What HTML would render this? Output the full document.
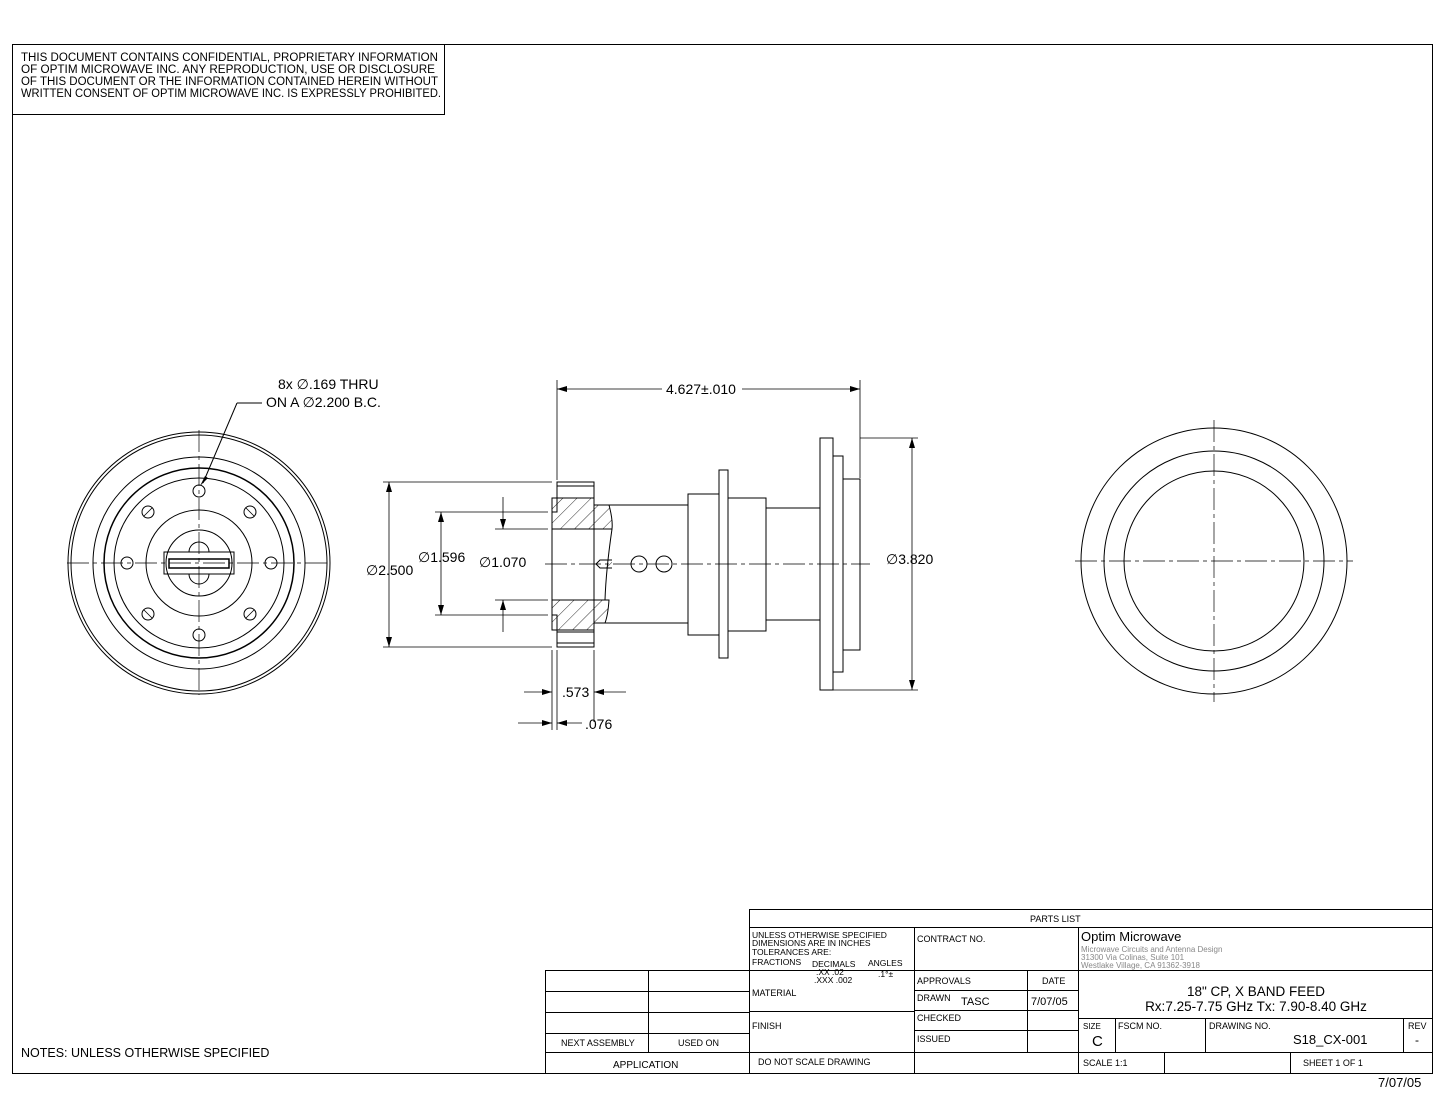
<!DOCTYPE html>
<html><head><meta charset="utf-8"><style>
html,body{margin:0;padding:0;background:#fff;}
svg{display:block;}
text{font-family:"Liberation Sans",sans-serif;fill:#000;}
</style></head><body>
<svg width="1445" height="1117" viewBox="0 0 1445 1117" xmlns="http://www.w3.org/2000/svg">
<defs>
<pattern id="h" width="10" height="10" patternUnits="userSpaceOnUse" patternTransform="rotate(45)">
<line x1="0" y1="0" x2="0" y2="10" stroke="#000" stroke-width="0.8"/></pattern>
<marker id="a" viewBox="0 0 10 6" refX="10" refY="3" markerWidth="10" markerHeight="6" orient="auto-start-reverse" markerUnits="userSpaceOnUse"><path d="M0,0L10,3L0,6z" fill="#000"/></marker>
</defs>
<g fill="none" stroke="#000" stroke-width="1">
<rect x="12.5" y="44.5" width="1420" height="1029"/>
<rect x="12.5" y="44.5" width="432" height="70"/>
</g>
<g font-size="11.5">
<text x="21" y="61" textLength="417" lengthAdjust="spacingAndGlyphs">THIS DOCUMENT CONTAINS CONFIDENTIAL, PROPRIETARY INFORMATION</text>
<text x="21" y="73" textLength="414" lengthAdjust="spacingAndGlyphs">OF OPTIM MICROWAVE INC. ANY REPRODUCTION, USE OR DISCLOSURE</text>
<text x="21" y="85" textLength="417" lengthAdjust="spacingAndGlyphs">OF THIS DOCUMENT OR THE INFORMATION CONTAINED HEREIN WITHOUT</text>
<text x="21" y="97" textLength="420" lengthAdjust="spacingAndGlyphs">WRITTEN CONSENT OF OPTIM MICROWAVE INC. IS EXPRESSLY PROHIBITED.</text>
</g>

<!-- Left view -->
<g fill="none" stroke="#000" stroke-width="1">
<circle cx="199" cy="563" r="131"/><circle cx="199" cy="563" r="128"/>
<circle cx="199" cy="563" r="106"/><circle cx="199" cy="563" r="95" stroke-width="1.5"/>
<circle cx="199" cy="563" r="85"/><circle cx="199" cy="563" r="53"/>
<circle cx="199" cy="563" r="33"/>
<g>
<circle cx="199" cy="491" r="6"/><circle cx="199" cy="635" r="6"/>
<circle cx="127" cy="563" r="6"/><circle cx="271" cy="563" r="6"/>
<circle cx="148" cy="512" r="6"/><circle cx="250" cy="512" r="6"/>
<circle cx="148" cy="614" r="6"/><circle cx="250" cy="614" r="6"/>
</g>
<path d="M144 516 L152 508 M246 508 L254 516 M144 610 L152 618 M246 618 L254 610" stroke-width="0.8"/>
<rect x="164" y="552" width="70" height="22"/>
<rect x="169" y="559" width="60" height="9" stroke-width="1.5"/>
<path d="M189 552 A10 10 0 0 1 209 552 M189 574 A10 10 0 0 0 209 574"/>
<line x1="67" y1="563" x2="331" y2="563" stroke-dasharray="22,4,4,4" stroke-width="0.7"/>
<line x1="199" y1="430" x2="199" y2="695" stroke-dasharray="22,4,4,4" stroke-width="0.7"/>
<path d="M237 403 L203 483"/><path d="M237 403 L262 403"/>
</g>
<path d="M200 486 L205 476 L208 478 z" fill="#000"/>
<g font-size="14">
<text x="278" y="389">8x ∅.169 THRU</text>
<text x="266" y="407">ON A ∅2.200 B.C.</text>
</g>

<!-- Middle view -->
<g fill="none" stroke="#000" stroke-width="1">
<path d="M557 482 H594 V647 H557 V615 H552 V512 H557 Z"/>
<rect x="557" y="482" width="37" height="16" fill="#fff"/>
<rect x="557" y="632" width="37" height="15" fill="#fff"/>
<path d="M557 486 H594 M557 643 H594"/>
<path d="M552 498 H594 V505 H609 Q613 520 612 529 H552 Z" fill="url(#h)"/>
<path d="M552 600 H609 Q608 615 605 623 H594 V630 H552 Z" fill="url(#h)"/>
<path d="M612 529 Q606 570 605 600"/>
<path d="M594 505 H688 M594 623 H688"/>
<path d="M612 560 H600 L596 564 L600 568 H612" fill="url(#h)"/>
<circle cx="639" cy="564" r="8"/><circle cx="664" cy="564" r="8"/>
<rect x="688" y="494" width="31" height="141"/>
<rect x="719" y="470" width="9" height="188"/>
<rect x="728" y="498" width="38" height="133"/>
<path d="M766 508 H820 M766 620 H820"/>
<rect x="820" y="438" width="13" height="252"/>
<rect x="833" y="456" width="10" height="216"/>
<rect x="843" y="479" width="17" height="171"/>
<line x1="545" y1="564" x2="870" y2="564" stroke-dasharray="22,4,4,4" stroke-width="0.7"/>
<path d="M557 380 V480 M860 380 V478" stroke-width="0.8"/>
<path d="M557 389 H662 M742 389 H860" marker-start="url(#a)" marker-end="url(#a)" stroke-width="0.8"/>
<path d="M860 438 H918 M833 690 H918" stroke-width="0.8"/>
<line x1="912" y1="438" x2="912" y2="690" marker-start="url(#a)" marker-end="url(#a)" stroke-width="0.8"/>
<path d="M383 482 H552 M383 647 H552" stroke-width="0.8"/>
<line x1="389" y1="482" x2="389" y2="647" marker-start="url(#a)" marker-end="url(#a)" stroke-width="0.8"/>
<path d="M435 512 H548 M435 615 H548" stroke-width="0.8"/>
<line x1="441" y1="512" x2="441" y2="615" marker-start="url(#a)" marker-end="url(#a)" stroke-width="0.8"/>
<path d="M495 529 H548 M495 600 H548" stroke-width="0.8"/>
<line x1="503" y1="497" x2="503" y2="529" marker-end="url(#a)" stroke-width="0.8"/>
<line x1="503" y1="632" x2="503" y2="600" marker-end="url(#a)" stroke-width="0.8"/>
<path d="M552 650 V730 M557 650 V730 M594 650 V722" stroke-width="0.8"/>
<line x1="524" y1="692" x2="552" y2="692" marker-end="url(#a)" stroke-width="0.8"/>
<line x1="626" y1="692" x2="594" y2="692" marker-end="url(#a)" stroke-width="0.8"/>
<line x1="518" y1="723" x2="552" y2="723" marker-end="url(#a)" stroke-width="0.8"/>
<line x1="582" y1="723" x2="557" y2="723" marker-end="url(#a)" stroke-width="0.8"/>
</g>
<g font-size="14">
<text x="666" y="394">4.627±.010</text>
<text x="886" y="564">∅3.820</text>
<text x="366" y="575">∅2.500</text>
<text x="418" y="562">∅1.596</text>
<text x="479" y="567">∅1.070</text>
<text x="562" y="697">.573</text>
<text x="585" y="729">.076</text>
</g>

<!-- Right view -->
<g fill="none" stroke="#000" stroke-width="1">
<circle cx="1214" cy="561" r="133"/><circle cx="1214" cy="561" r="110"/><circle cx="1214" cy="561" r="90"/>
<line x1="1075" y1="561" x2="1353" y2="561" stroke-dasharray="22,4,4,4" stroke-width="0.7"/>
<line x1="1214" y1="420" x2="1214" y2="702" stroke-dasharray="22,4,4,4" stroke-width="0.7"/>
</g>

<text x="21" y="1057" font-size="12.5">NOTES: UNLESS OTHERWISE SPECIFIED</text>

<!-- Title block -->
<g fill="none" stroke="#000" stroke-width="1">
<rect x="749.5" y="909.5" width="683" height="164"/>
<path d="M749 927.5 H1432"/>
<path d="M914.5 928 V1073 M1078.5 928 V1073 M1027.5 970 V1052"/>
<path d="M749 970.5 H1078 M1078 970.5 H1432"/>
<path d="M914 990.5 H1078 M914 1010.5 H1078 M914 1030.5 H1078"/>
<path d="M749 1011.5 H914 M749 1052.5 H1432"/>
<path d="M1078 1018.5 H1432 M1115.5 1018 V1052 M1205.5 1018 V1052 M1403.5 1018 V1052"/>
<path d="M1164.5 1052 V1073 M1290.5 1052 V1073"/>
<rect x="545.5" y="970.5" width="204" height="103"/>
<path d="M648.5 970 V1052 M545 991.5 H749 M545 1012.5 H749 M545 1033.5 H749 M545 1052.5 H749"/>
</g>
<g font-size="9">
<text x="1030" y="922">PARTS LIST</text>
<text x="752" y="938" font-size="8.5">UNLESS OTHERWISE SPECIFIED</text>
<text x="752" y="946" font-size="8.5">DIMENSIONS ARE IN INCHES</text>
<text x="752" y="955" font-size="8.5">TOLERANCES ARE:</text>
<text x="752" y="965" font-size="8.5">FRACTIONS</text>
<text x="812" y="967" font-size="8.5">DECIMALS</text>
<text x="868" y="966" font-size="8.5">ANGLES</text>
<text x="816" y="975" font-size="8.5">.XX  .02</text>
<text x="814" y="983" font-size="8.5">.XXX .002</text>
<text x="878" y="977" font-size="8.5">.1°±</text>
<text x="917" y="942">CONTRACT NO.</text>
<text x="752" y="996">MATERIAL</text>
<text x="752" y="1029">FINISH</text>
<text x="758" y="1065">DO NOT SCALE DRAWING</text>
<text x="917" y="984">APPROVALS</text>
<text x="1042" y="984">DATE</text>
<text x="917" y="1001">DRAWN</text>
<text x="961" y="1005" font-size="11">TASC</text>
<text x="1031" y="1005" font-size="11">7/07/05</text>
<text x="917" y="1021">CHECKED</text>
<text x="917" y="1042">ISSUED</text>
<text x="1081" y="941" font-size="13">Optim Microwave</text>
<text x="1081" y="952" font-size="8" style="fill:#888">Microwave Circuits and Antenna Design</text>
<text x="1081" y="960" font-size="8" style="fill:#888">31300 Via Colinas, Suite 101</text>
<text x="1081" y="968" font-size="8" style="fill:#888">Westlake Village, CA 91362-3918</text>
<text x="1256" y="996" font-size="13.5" text-anchor="middle">18" CP, X BAND FEED</text>
<text x="1256" y="1011" font-size="13.5" text-anchor="middle">Rx:7.25-7.75 GHz  Tx: 7.90-8.40 GHz</text>
<text x="1083" y="1029" font-size="8">SIZE</text>
<text x="1092" y="1046" font-size="15">C</text>
<text x="1118" y="1029">FSCM NO.</text>
<text x="1209" y="1029">DRAWING NO.</text>
<text x="1293" y="1044" font-size="13">S18_CX-001</text>
<text x="1408" y="1029">REV</text>
<text x="1415" y="1044" font-size="12">-</text>
<text x="1083" y="1066">SCALE  1:1</text>
<text x="1303" y="1066">SHEET  1 OF  1</text>
<text x="561" y="1046">NEXT ASSEMBLY</text>
<text x="678" y="1046">USED ON</text>
<text x="613" y="1068" font-size="10">APPLICATION</text>
</g>
<text x="1378" y="1087" font-size="13">7/07/05</text>
</svg>
</body></html>
